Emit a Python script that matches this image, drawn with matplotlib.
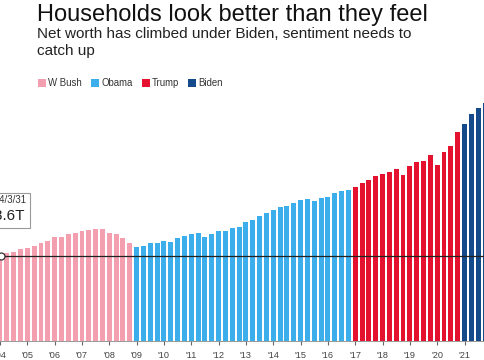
#!/usr/bin/env python3
"""US household net worth by quarter, coloured by president."""

import matplotlib

matplotlib.use("Agg")

import matplotlib.pyplot as plt
from matplotlib.lines import Line2D

plt.rcParams["font.family"] = ["Liberation Sans", "DejaVu Sans"]

# household net worth, $T, quarterly 2004Q1..2021Q4
bush = [48.6, 50.5, 51.1, 52.6, 53.3, 54.5, 56.2, 57.4, 59.3, 59.6,
        61.0, 61.9, 62.9, 63.5, 64.0, 63.9, 61.9, 61.0, 58.7, 56.0]
obama = [53.9, 54.3, 56.2, 56.2, 57.2, 56.8, 58.7, 60.2, 61.2, 61.6,
         59.6, 61.2, 62.9, 62.9, 64.8, 65.4, 68.0, 69.2, 71.5, 73.4,
         74.9, 76.8, 77.4, 79.1, 80.5, 81.2, 80.1, 81.6, 82.5, 84.5,
         85.8, 86.2]
trump = [88.2, 90.5, 91.9, 94.3, 95.3, 96.5, 98.2, 94.7, 100.2, 102.5,
         102.9, 106.2, 100.6, 107.9, 111.7, 119.3]
biden = [123.9, 129.8, 133.1, 136.3]

years = [f"'{y % 100:02d}" for y in range(2004, 2022)]
ref_date = "2004/3/31"
ref_label = "$48.6T"

COLORS = {"W Bush": "#f49fb0", "Obama": "#3daeec", "Trump": "#e5122f", "Biden": "#154b8b"}


def main() -> None:
    fig = plt.figure(figsize=(4.85, 3.6), dpi=100)
    ax = fig.add_axes([0, 19 / 360, 1, 261 / 360])

    start = 0
    for name, vals in [("W Bush", bush), ("Obama", obama), ("Trump", trump), ("Biden", biden)]:
        xs = list(range(start, start + len(vals)))
        ax.bar(xs, vals, width=0.72, color=COLORS[name], linewidth=0)
        start += len(vals)

    ax.axhline(bush[0], color="#222222", linewidth=0.9, zorder=3)
    ax.plot([0.1], [bush[0]], marker="o", markersize=5, markerfacecolor="white",
            markeredgecolor="#333333", markeredgewidth=0.9, zorder=4, clip_on=False)

    ax.set_xlim(0, 71.0)
    ax.set_ylim(0, 149.2)
    ax.set_xticks(range(0, 72, 4))
    ax.set_xticklabels(years)
    ax.tick_params(axis="x", length=3, width=0.8, color="#666666", labelsize=6.6,
                   labelcolor="#444444", pad=4)
    ax.set_yticks([])
    for side in ("top", "left", "right"):
        ax.spines[side].set_visible(False)
    ax.spines["bottom"].set_color("#888888")
    ax.spines["bottom"].set_linewidth(0.6)

    # reference tooltip, mostly cut off at the left edge
    fig.patches.append(plt.Rectangle((-60 / 485, 1 - 228 / 360), 90 / 485, 35 / 360,
                                     transform=fig.transFigure, facecolor="white",
                                     edgecolor="#999999", linewidth=0.8))
    fig.text(27 / 485, 1 - 200 / 360, ref_date, ha="right", va="center",
             fontsize=7, color="#333333")
    fig.text(25 / 485, 1 - 216 / 360, ref_label, ha="right", va="center",
             fontsize=11, color="#222222")

    fig.text(37 / 485, 1 - 20.5 / 360, "Households look better than they feel",
             fontsize=17, color="#111111", va="baseline")
    fig.text(37 / 485, 1 - 38.5 / 360,
             "Net worth has climbed under Biden, sentiment needs to",
             fontsize=11, color="#222222", va="baseline")
    fig.text(37 / 485, 1 - 55.5 / 360, "catch up",
             fontsize=11, color="#222222", va="baseline")

    handles = [Line2D([], [], linestyle="none", marker="s", markersize=5.5,
                      markerfacecolor=c, markeredgewidth=0, label=n)
               for n, c in COLORS.items()]
    fig.legend(handles=handles, loc="center left", bbox_to_anchor=(35 / 485, 1 - 83 / 360),
               ncol=4, frameon=False, fontsize=6.9, handlelength=0.7, handletextpad=0.3,
               columnspacing=1.0, labelcolor="#333333", borderaxespad=0)

    fig.savefig("out.png", dpi=100)
    plt.close(fig)


if __name__ == "__main__":
    main()
